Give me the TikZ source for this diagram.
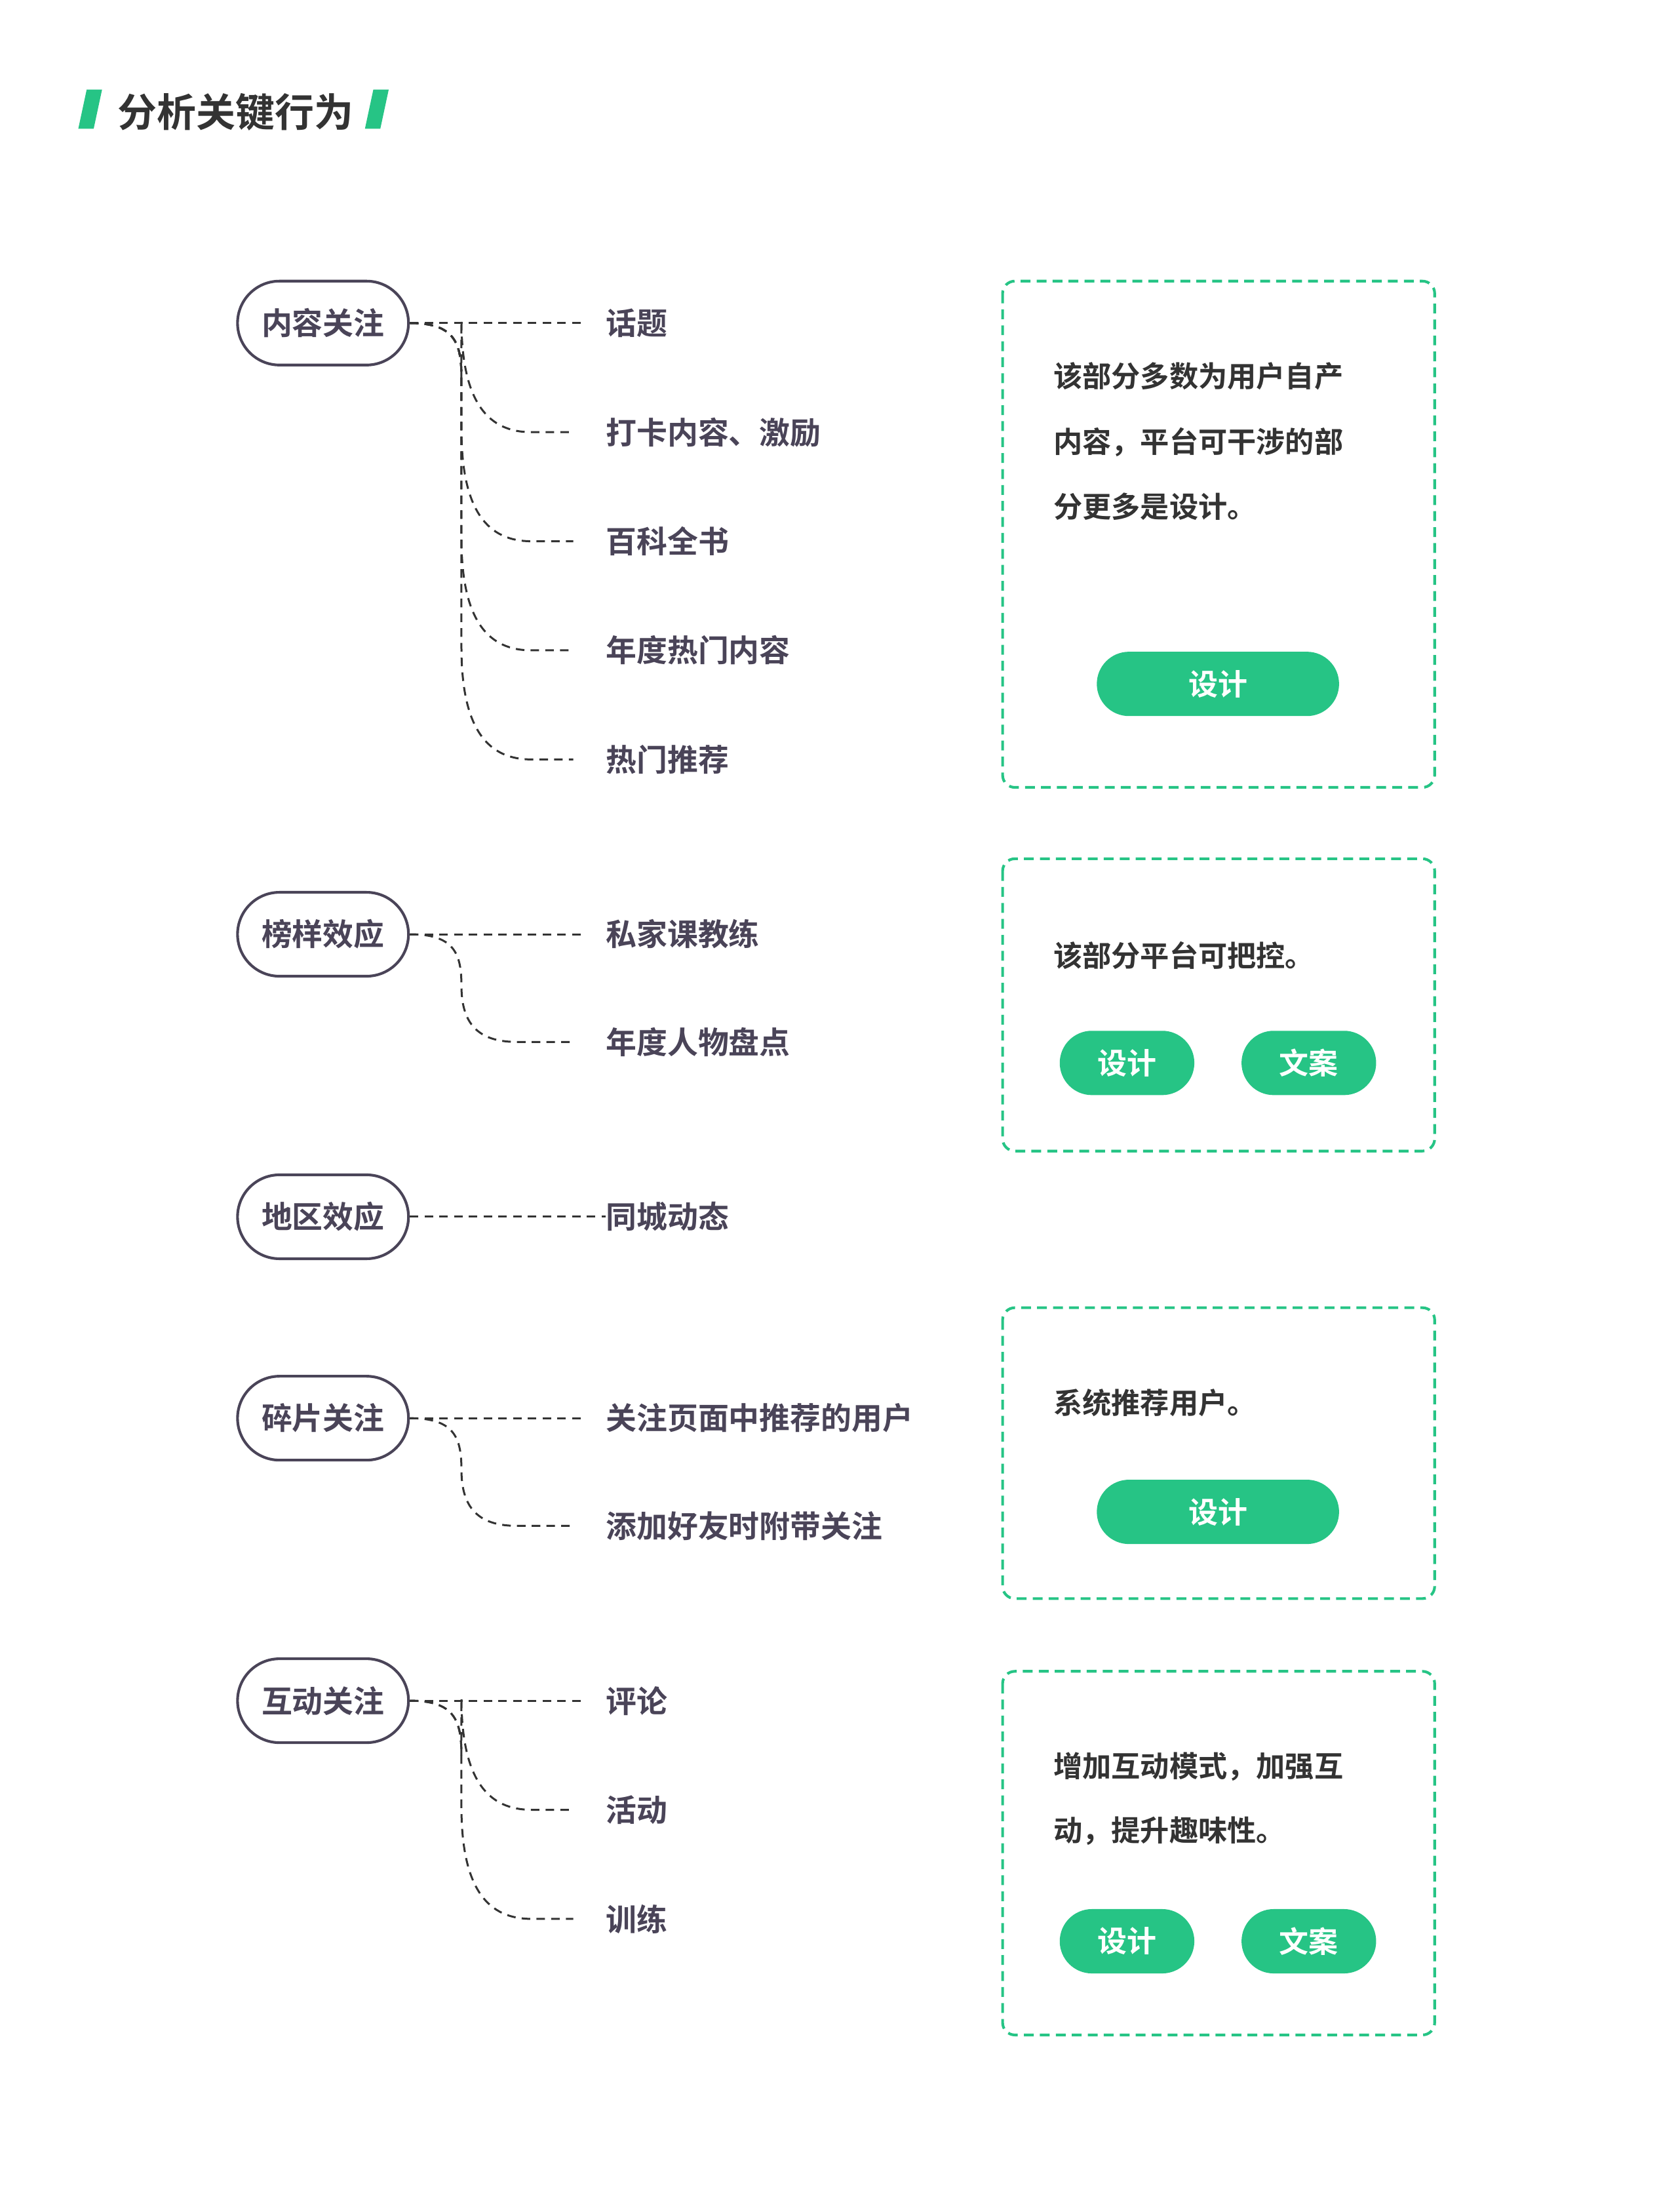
\documentclass[tikz,border=0pt]{standalone}
\usepackage{fontspec}
\newfontfamily\cjk{Noto Sans CJK SC Bold}
\usetikzlibrary{shapes.misc}
\definecolor{gr}{HTML}{26C485}
\definecolor{tx}{HTML}{4A4458}
\definecolor{dk}{HTML}{333333}
\begin{document}
\begin{tikzpicture}[x=0.02cm,y=-0.02cm,
  pill/.style={draw=tx,line width=1.1pt,rounded rectangle,minimum width=2.68cm,minimum height=1.2cm,font=\cjk\fontsize{12.5pt}{14pt}\selectfont,text=tx},
  item/.style={anchor=west,font=\cjk\fontsize{12.5pt}{14pt}\selectfont,text=tx,inner sep=0},
  conn/.style={draw=dk,dashed,line width=0.8pt,dash pattern=on 3.5pt off 2.5pt},
  gbox/.style={draw=gr,dashed,line width=1.1pt,rounded corners=5pt,dash pattern=on 4pt off 2.5pt},
  btn/.style={fill=gr,rounded rectangle,minimum height=0.92cm,text=white,font=\cjk\fontsize{12pt}{14pt}\selectfont},
  btext/.style={anchor=west,font=\cjk\fontsize{11.8pt}{14pt}\selectfont,text=dk,inner sep=0}]
\path[use as bounding box] (0,0) rectangle (1200,1581.6);
% title
\fill[gr] (62,64) -- (73,64) -- (67,92) -- (56,92) -- cycle;
\fill[gr] (267,64) -- (278,64) -- (272,92) -- (261,92) -- cycle;
\node[anchor=west,font=\cjk\fontsize{16pt}{18pt}\selectfont,text=dk,inner sep=0] (title) at (84,80) {分析关键行为};
% group 1
\node[pill] (p1) at (231,231) {内容关注};
\node[item] (a1) at (433,231) {话题};
\node[item] (a2) at (433,309) {打卡内容、激励};
\node[item] (a3) at (433,387) {百科全书};
\node[item] (a4) at (433,465) {年度热门内容};
\node[item] (a5) at (433,543) {热门推荐};
\draw[conn] (p1.east) -- (416,231);
\foreach \n/\y in {a2/309,a3/387,a4/465,a5/543}{
  \draw[conn] (p1.east) .. controls (325,231) and (330,245) .. (330,270) -- (330,\y-80) .. controls (330,\y-20) and (350,\y) .. (380,\y) -- ([xshift=-0.46cm]\n.west);
}
% group 2
\node[pill] (p2) at (231,668) {榜样效应};
\node[item] (b1) at (433,668) {私家课教练};
\node[item] (b2) at (433,745) {年度人物盘点};
\draw[conn] (p2.east) -- (416,668);
\draw[conn] (p2.east) .. controls (325,668) and (330,682) .. (330,705) .. controls (330,735) and (345,745) .. (370,745) -- ([xshift=-0.46cm]b2.west);
% group 3
\node[pill] (p3) at (231,870) {地区效应};
\node[item] (c1) at (433,870) {同城动态};
\draw[conn] (p3.east) -- (c1.west);
% group 4
\node[pill] (p4) at (231,1014) {碎片关注};
\node[item] (d1) at (433,1014) {关注页面中推荐的用户};
\node[item] (d2) at (433,1091) {添加好友时附带关注};
\draw[conn] (p4.east) -- (416,1014);
\draw[conn] (p4.east) .. controls (325,1014) and (330,1028) .. (330,1051) .. controls (330,1081) and (345,1091) .. (370,1091) -- ([xshift=-0.46cm]d2.west);
% group 5
\node[pill] (p5) at (231,1216) {互动关注};
\node[item] (e1) at (433,1216) {评论};
\node[item] (e2) at (433,1294) {活动};
\node[item] (e3) at (433,1372) {训练};
\draw[conn] (p5.east) -- (416,1216);
\foreach \n/\y in {e2/1294,e3/1372}{
  \draw[conn] (p5.east) .. controls (325,1216) and (330,1230) .. (330,1255) -- (330,\y-80) .. controls (330,\y-20) and (350,\y) .. (380,\y) -- ([xshift=-0.46cm]\n.west);
}
% boxes
\draw[gbox] (717,201) rectangle (1026,563);
\node[btext] (t1) at (753,269) {该部分多数为用户自产};
\node[btext] (t2) at (753,316) {内容，平台可干涉的部};
\node[btext] (t3) at (753,362) {分更多是设计。};
\node[btn,minimum width=3.7cm] (k1) at (871,489) {设计};
\draw[gbox] (717,614) rectangle (1026,823);
\node[btext] (t4) at (753,683) {该部分平台可把控。};
\node[btn,minimum width=2.16cm] (k2) at (806,760) {设计};
\node[btn,minimum width=2.16cm] (k3) at (936,760) {文案};
\draw[gbox] (717,935) rectangle (1026,1143);
\node[btext] (t5) at (753,1003) {系统推荐用户。};
\node[btn,minimum width=3.7cm] (k4) at (871,1081) {设计};
\draw[gbox] (717,1195) rectangle (1026,1455);
\node[btext] (t6) at (753,1263) {增加互动模式，加强互};
\node[btext] (t7) at (753,1309) {动，提升趣味性。};
\node[btn,minimum width=2.16cm] (k5) at (806,1388) {设计};
\node[btn,minimum width=2.16cm] (k6) at (936,1388) {文案};
\end{tikzpicture}
\end{document}
